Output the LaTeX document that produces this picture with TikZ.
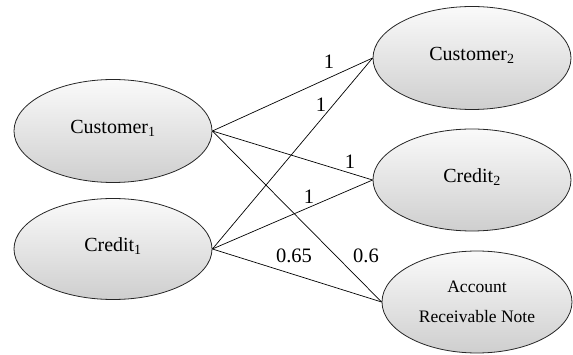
\documentclass[tikz,border=0pt]{standalone}
\usepackage{fontspec}
\setmainfont{Liberation Serif}
\usetikzlibrary{shapes.geometric}
\begin{document}
\begin{tikzpicture}[x=1pt,y=-1pt,
  ent/.style={ellipse,draw=black!85,line width=0.8pt,top color=gray!4,bottom color=gray!38,inner sep=0pt,font=\fontsize{20}{22}\selectfont},
  lift/.style={text height=14pt,text depth=9pt},
  conn/.style={draw=black,line width=0.7pt},
  lab/.style={font=\fontsize{20.5}{22}\selectfont,inner sep=0pt}]
\useasboundingbox (0,0) rectangle (573,355);
\node[ent,lift,minimum width=198pt,minimum height=103pt] (cu1) at (113,131) {Customer\textsubscript{1}};
\node[ent,lift,minimum width=198pt,minimum height=101pt] (cr1) at (113,249) {Credit\textsubscript{1}};
\node[ent,lift,minimum width=198pt,minimum height=103pt] (cu2) at (472,58) {Customer\textsubscript{2}};
\node[ent,lift,minimum width=198pt,minimum height=102pt] (cr2) at (472,180) {Credit\textsubscript{2}};
\node[ent,minimum width=190pt,minimum height=102pt,align=center,font=\fontsize{17.5}{30}\selectfont] (arn) at (477,302) {Account\\Receivable Note};
\draw[conn] (cu1.east) -- (cu2.west);
\draw[conn] (cu1.east) -- (cr2.west);
\draw[conn] (cu1.east) -- (arn.west);
\draw[conn] (cr1.east) -- (cu2.west);
\draw[conn] (cr1.east) -- (cr2.west);
\draw[conn] (cr1.east) -- (arn.west);
\node[lab] (l1) at (329,62) {1};
\node[lab] (l2) at (321,105) {1};
\node[lab] (l3) at (350,162) {1};
\node[lab] (l4) at (309,197) {1};
\node[lab] (l5) at (294,256) {0.65};
\node[lab] (l6) at (366,256) {0.6};
\end{tikzpicture}
\end{document}
